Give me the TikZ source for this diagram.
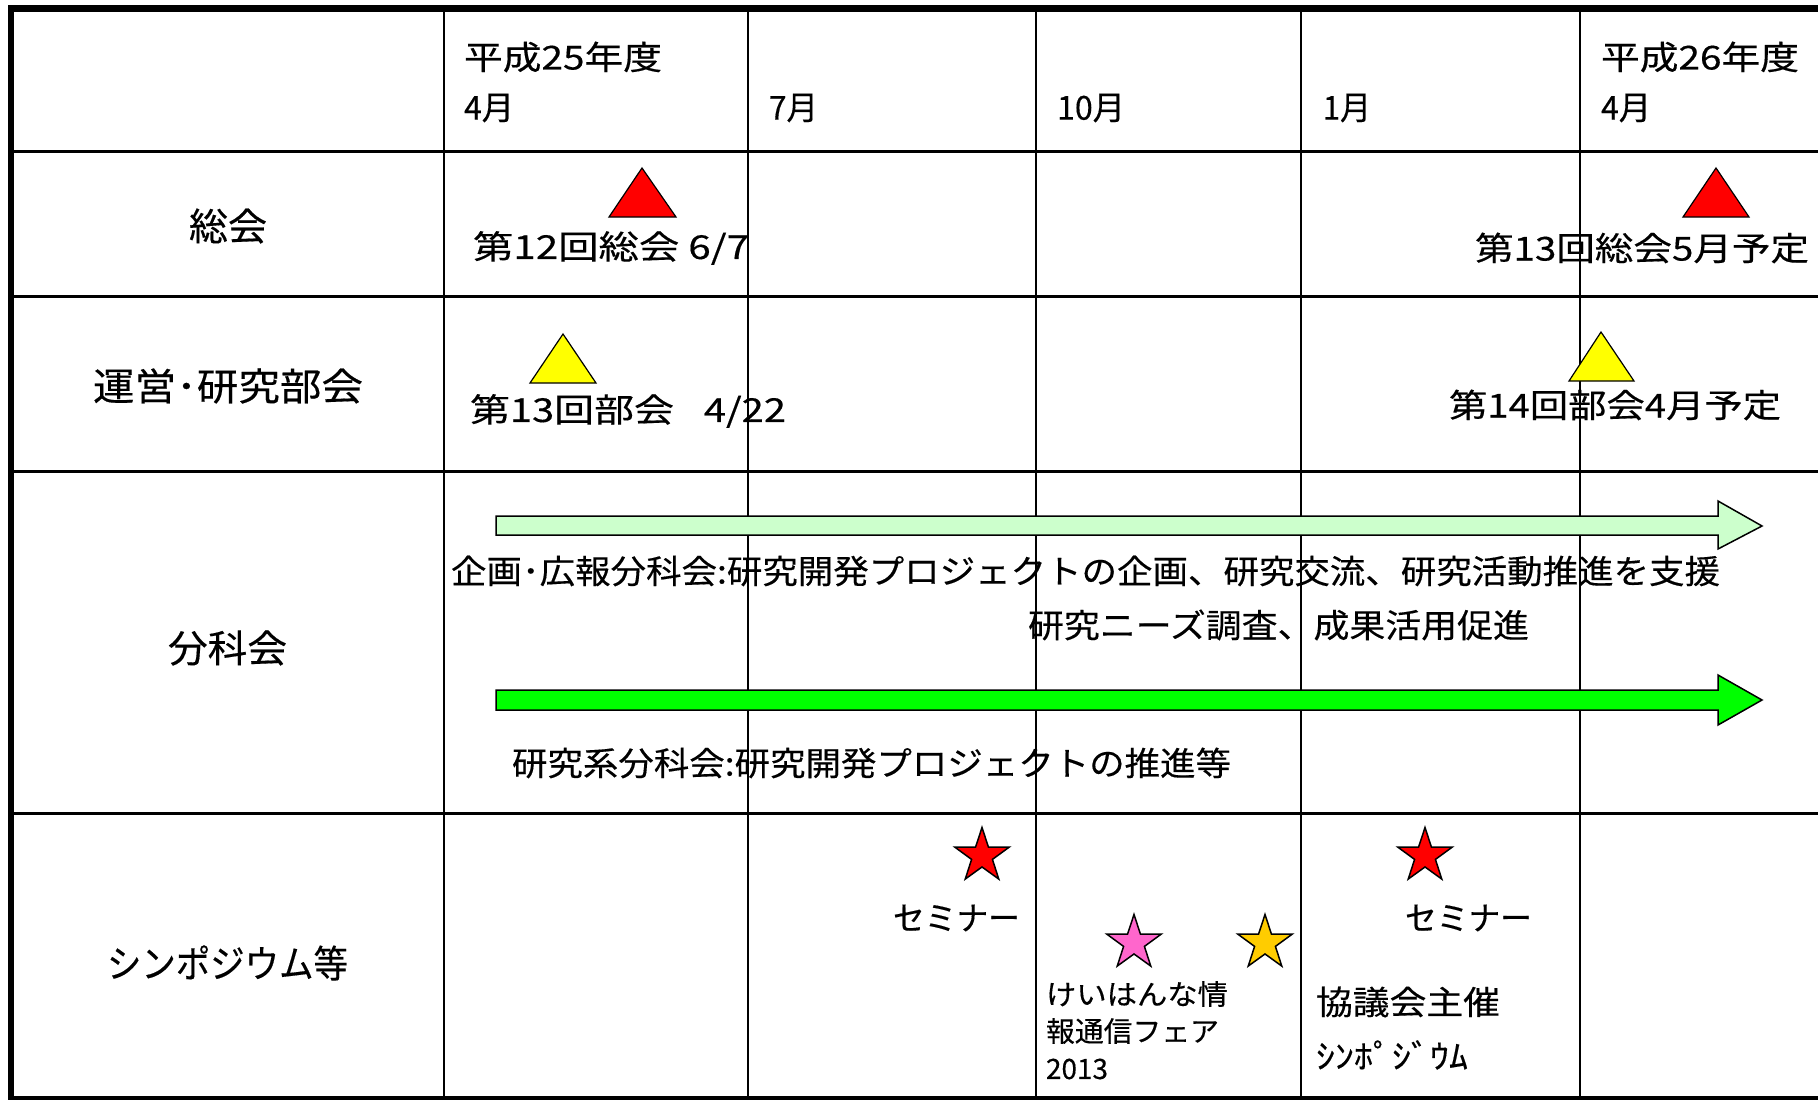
\documentclass[tikz,border=0pt]{standalone}
\usepackage{fontspec}
\usepackage{graphicx}
\setmainfont{Noto Sans CJK JP}[FakeBold=0.35]
\usetikzlibrary{shapes.geometric}
\definecolor{lgreen}{HTML}{CCFFCC}
\definecolor{bgreen}{HTML}{00FF00}
\definecolor{tred}{HTML}{FF0000}
\definecolor{tyellow}{HTML}{FFFF00}
\definecolor{spink}{HTML}{FF66CC}
\definecolor{sgold}{HTML}{FFCC00}
\newcommand{\fitto}[2]{\resizebox{#1pt}{\height}{#2}}
\tikzset{
  tabline/.style={line width=3pt, black},
  vline/.style={line width=2.6pt, black},
  lab/.style={font=\fontsize{33}{36}\selectfont, inner sep=0pt, outer sep=0pt, anchor=west},
  rowlab/.style={font=\fontsize{38}{40}\selectfont, inner sep=0pt, outer sep=0pt, anchor=west},
  smalllab/.style={font=\fontsize{28}{30}\selectfont, inner sep=0pt, outer sep=0pt, anchor=west},
  tri/.style={draw=black, line width=1.2pt, line join=miter},
  bararrow/.style={draw=black, line width=1.5pt, line join=miter},
  starmark/.style={star, star points=5, star point ratio=2.6, minimum size=57pt, inner sep=0pt, draw=black, line width=1.5pt}
}
\begin{document}
\begin{tikzpicture}[x=1pt,y=-1pt]
\useasboundingbox (0,0) rectangle (1818,1100);
\fill[white] (0,0) rectangle (1818,1100);

% grid
\foreach \yy in {151,296,471,813} \draw[tabline] (10,\yy) -- (1818,\yy);
\foreach \xx in {444,748,1036,1301,1580} \draw[vline] (\xx,8) -- (\xx,1098);
\draw[line width=7pt] (8,8) -- (1818,8);
\draw[line width=6pt] (11,5) -- (11,1100);
\draw[line width=5pt] (9,1098) -- (1818,1098);

% header
\node[lab] (y25) at (464,57) {\fitto{198}{平成25年度}};
\node[lab] (m4a) at (464,108) {\fitto{50}{4月}};
\node[lab] (m7) at (769,108) {\fitto{49}{7月}};
\node[lab] (m10) at (1057,108) {\fitto{68}{10月}};
\node[lab] (m1) at (1323,108) {\fitto{48}{1月}};
\node[lab] (y26) at (1601,57) {\fitto{198}{平成26年度}};
\node[lab] (m4b) at (1601,108) {\fitto{50}{4月}};

% row labels
\node[rowlab] (r1) at (189,226) {\fitto{78}{総会}};
\node[rowlab] (r2) at (93,386) {\fitto{270}{運営･研究部会}};
\node[rowlab] (r3) at (168,648) {\fitto{119}{分科会}};
\node[rowlab] (r4) at (107,963) {\fitto{241}{シンポジウム等}};

% 総会 row
\draw[tri, fill=tred] (642,168) -- (676,217) -- (609,217) -- cycle;
\draw[tri, fill=tred] (1716,168) -- (1749,217) -- (1683,217) -- cycle;
\node[lab] (s12) at (473,248) {\fitto{276}{第12回総会 6/7}};
\node[lab] (s13) at (1475,248) {\fitto{334}{第13回総会5月予定}};

% 部会 row
\draw[tri, fill=tyellow] (563,334) -- (596,383) -- (530,383) -- cycle;
\draw[tri, fill=tyellow] (1601,332) -- (1634,381) -- (1569,381) -- cycle;
\node[lab] (b13) at (470,411) {\fitto{316}{第13回部会\hspace{0.75em}4/22}};
\node[lab] (b14) at (1449,405) {\fitto{332}{第14回部会4月予定}};

% 分科会 row arrows
\draw[bararrow, fill=lgreen] (496,516) -- (1718,516) -- (1718,501) -- (1762,526) -- (1718,549) -- (1718,535) -- (496,535) -- cycle;
\draw[bararrow, fill=bgreen] (496,690) -- (1718,690) -- (1718,675) -- (1762,700) -- (1718,725) -- (1718,710) -- (496,710) -- cycle;
\node[lab] (kikaku) at (451,571) {\fitto{1269}{企画･広報分科会:研究開発プロジェクトの企画、研究交流、研究活動推進を支援}};
\node[lab] (needs) at (1028,625) {\fitto{501}{研究ニーズ調査、成果活用促進}};
\node[lab] (kenkyu) at (512,763) {\fitto{719}{研究系分科会:研究開発プロジェクトの推進等}};

% シンポジウム row
\node[starmark, fill=tred] (st1) at (982,856) {};
\node[starmark, fill=tred] (st2) at (1425,856) {};
\node[starmark, fill=spink] (st3) at (1134,943) {};
\node[starmark, fill=sgold] (st4) at (1265,943) {};
\node[lab] (sem1) at (893,918) {\fitto{127}{セミナー}};
\node[lab] (sem2) at (1405,918) {\fitto{127}{セミナー}};
\node[smalllab] (fair1) at (1046,994) {\fitto{182}{けいはんな情}};
\node[smalllab] (fair2) at (1046,1031) {\fitto{173}{報通信フェア}};
\node[smalllab] (fair3) at (1046,1069) {\fitto{62}{2013}};
\node[lab] (kyo1) at (1316,1002) {\fitto{184}{協議会主催}};
\node[lab] (kyo2) at (1316,1055) {\fitto{152}{ｼﾝﾎﾟｼﾞｳﾑ}};
\end{tikzpicture}
\end{document}
